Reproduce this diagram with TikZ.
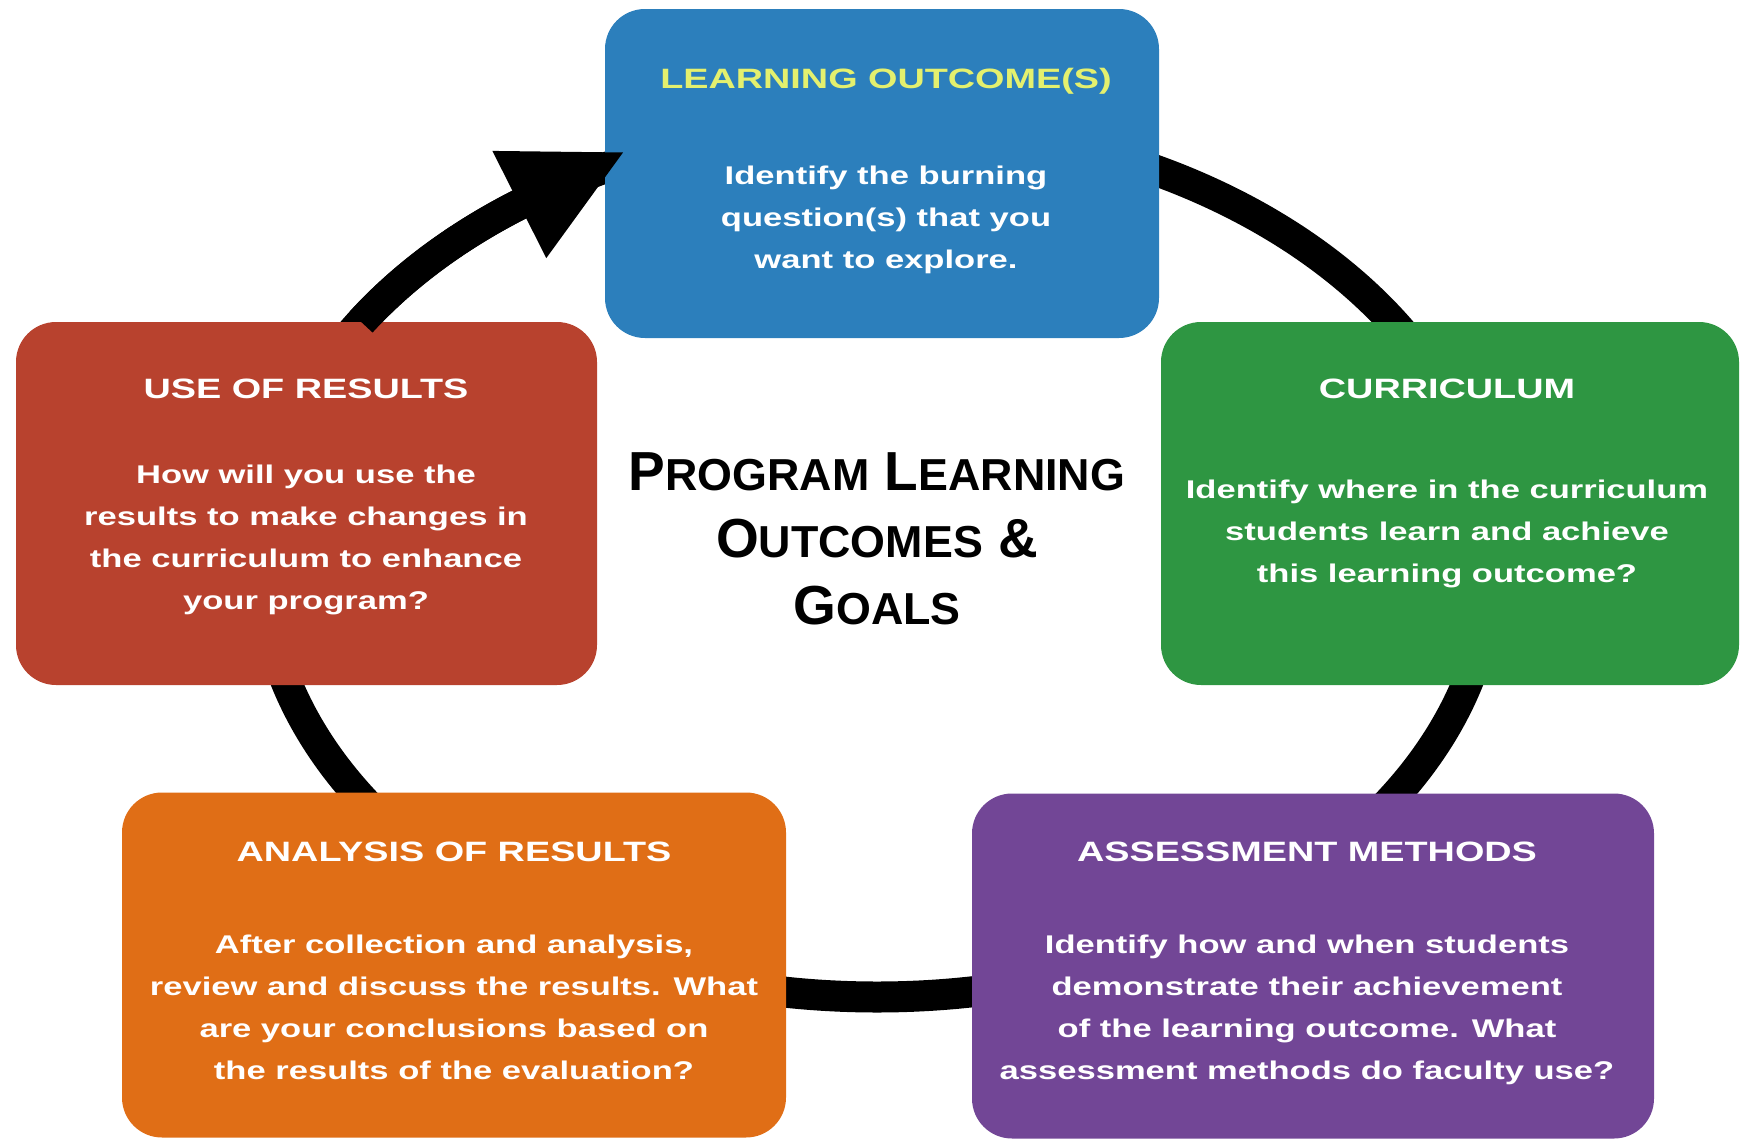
\documentclass[tikz,border=0pt]{standalone}
\usepackage{fontspec}
\usepackage{tikz}
\usetikzlibrary{arrows.meta}
\newfontfamily\cardfont{Liberation Sans}[FakeStretch=1.35]
\newfontfamily\hubfont{Liberation Sans}
\definecolor{cblue}{RGB}{44,127,188}
\definecolor{cyellow}{RGB}{228,240,110}
\definecolor{cred}{RGB}{184,66,46}
\definecolor{cgreen}{RGB}{46,150,66}
\definecolor{corange}{RGB}{224,110,22}
\definecolor{cpurple}{RGB}{114,70,150}
\newcommand\bigsmall[2]{{\fontsize{27.5}{33.5}\selectfont #1}{\fontsize{22.4}{33.5}\selectfont #2}}

\begin{document}
\begin{tikzpicture}[x=0.5pt,y=-0.5pt]
  \tikzstyle{card}=[rectangle,rounded corners=20pt,inner sep=0pt]
  \tikzstyle{cardhead}=[font=\cardfont\bfseries\fontsize{14}{21}\selectfont,text=white]
  \tikzstyle{cardtext}=[font=\cardfont\bfseries\fontsize{12.8}{21}\selectfont,text=white,align=center]
  \tikzstyle{ring}=[line width=15.5pt,draw=black]
  \useasboundingbox (0,0) rectangle (1741,1140);
  \path (877,560) coordinate (hub);
  \path (361.2,322) coordinate (ringstart);
  \path (623,152.5) coordinate (ringtip);
  \draw[ring] (hub) ellipse [x radius=615,y radius=437];

  % the five steps
  \path (882,173.5) node[card,fill=cblue,minimum width=277pt,minimum height=164.5pt] (outcome) {};
  \path (306.5,503.5) node[card,fill=cred,minimum width=290.5pt,minimum height=181.5pt] (use) {};
  \path (1450,503.5) node[card,fill=cgreen,minimum width=289pt,minimum height=181.5pt] (curriculum) {};
  \path (454,965) node[card,fill=corange,minimum width=332pt,minimum height=172.5pt] (analysis) {};
  \path (1313,966) node[card,fill=cpurple,minimum width=341pt,minimum height=172.5pt] (assess) {};

  \path (886,81) node[cardhead,text=cyellow] (outcomehead) {LEARNING OUTCOME(S)};
  \path (886,219.5) node[cardtext] (outcometext) {Identify the burning\\question(s) that you\\want to explore.};
  \path (306,389) node[cardhead] (usehead) {USE OF RESULTS};
  \path (306,540) node[cardtext] (usetext) {How will you use the\\results to make changes in\\the curriculum to enhance\\your program?};
  \path (1447,389) node[cardhead] (curriculumhead) {CURRICULUM};
  \path (1447,533.5) node[cardtext] (curriculumtext) {Identify where in the curriculum\\students learn and achieve\\this learning outcome?};
  \path (454,852) node[cardhead] (analysishead) {ANALYSIS OF RESULTS};
  \path (454,1007) node[cardtext] (analysistext) {After collection and analysis,\\review and discuss the results. What\\are your conclusions based on\\the results of the evaluation?};
  \path (1307,852) node[cardhead] (assesshead) {ASSESSMENT METHODS};
  \path (1307,1009.5) node[cardtext] (assesstext) {Identify how and when students\\demonstrate their achievement\\of the learning outcome. What\\assessment methods do faculty use?};

  \path (877,539) node[font=\hubfont\bfseries\fontsize{27.5}{33.5}\selectfont,align=center] (goals)
    {\bigsmall{P}{ROGRAM} \bigsmall{L}{EARNING}\\\bigsmall{O}{UTCOMES} \&\\\bigsmall{G}{OALS}};

  \draw[ring,-{Triangle[length=58pt,width=60pt,line width=0pt]}] (ringstart)
    arc [start angle=213,end angle=234,x radius=615,y radius=437] -- (ringtip);
\end{tikzpicture}
\end{document}
